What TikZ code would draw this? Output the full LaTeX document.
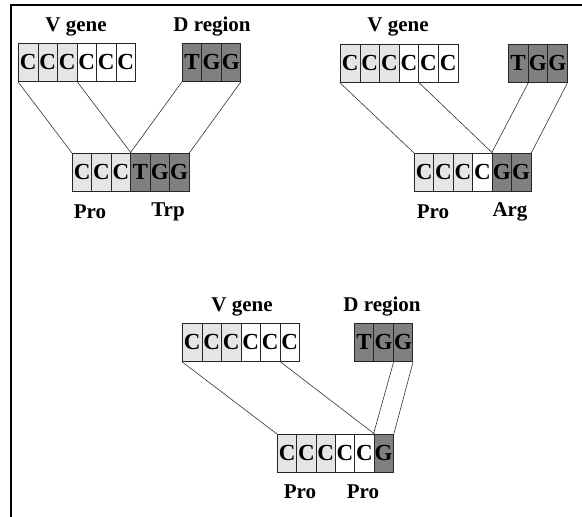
\documentclass[tikz,border=0pt]{standalone}
\usepackage{fontspec}
\setmainfont{Liberation Serif}
\begin{document}
\begin{tikzpicture}[x=1pt,y=-1pt,
  cell/.style={draw=black!85, line width=0.8pt, anchor=north west, inner sep=0pt,
    minimum width=19.5pt, minimum height=38pt, font=\fontsize{23}{23}\selectfont\bfseries},
  lt/.style={fill=black!10},
  dk/.style={fill=black!50},
  wt/.style={fill=white},
  lbl/.style={font=\fontsize{21}{21}\selectfont\bfseries, inner sep=0pt},
  link/.style={draw=black!80, line width=0.6pt}]
\useasboundingbox (0,0) rectangle (582,517);
% frame
\draw[line width=1.6pt] (11,517) -- (11,5) -- (582,5);

% ---------- first rearrangement: Pro Trp ----------
\foreach \f [count=\i] in {lt,lt,lt,wt,wt,wt}
  \node[cell,\f] (av\i) at ({18+(\i-1)*19.5},43) {C};
\foreach \t/\f [count=\i] in {T/dk,G/dk,G/dk}
  \node[cell,\f] (ad\i) at ({182+(\i-1)*19.3},43) {\t};
\foreach \t/\f [count=\i] in {C/lt,C/lt,C/lt,T/dk,G/dk,G/dk}
  \node[cell,\f] (ap\i) at ({72+(\i-1)*19.4},153) {\t};
\node[lbl] (avl) at (76,27) {V gene};
\node[lbl] (adl) at (212,27) {D region};
\node[lbl] (apa) at (90,212) {Pro};
\node[lbl] (apb) at (168,212) {Trp};
\draw[link] (av1.south west) -- (ap1.north west);
\draw[link] (av3.south east) -- (ap3.north east);
\draw[link] (ad1.south west) -- (ap4.north west);
\draw[link] (ad3.south east) -- (ap6.north east);

% ---------- second rearrangement: Pro Arg ----------
\foreach \f [count=\i] in {lt,lt,lt,wt,wt,wt}
  \node[cell,\f] (bv\i) at ({340+(\i-1)*19.6},44) {C};
\foreach \t/\f [count=\i] in {T/dk,G/dk,G/dk}
  \node[cell,\f] (bd\i) at ({508+(\i-1)*19.6},44) {\t};
\foreach \t/\f [count=\i] in {C/lt,C/lt,C/lt,C/wt,G/dk,G/dk}
  \node[cell,\f] (bp\i) at ({414+(\i-1)*19.4},153) {\t};
\node[lbl] (bvl) at (398,27) {V gene};
\node[lbl] (bpa) at (433,212) {Pro};
\node[lbl] (bpb) at (510,212) {Arg};
\draw[link] (bv1.south west) -- (bp1.north west);
\draw[link] (bv4.south east) -- (bp4.north east);
\draw[link] (bd1.south east) -- (bp5.north west);
\draw[link] (bd3.south east) -- (bp6.north east);

% ---------- third rearrangement: Pro Pro ----------
\foreach \f [count=\i] in {lt,lt,lt,wt,wt,wt}
  \node[cell,\f] (cv\i) at ({182+(\i-1)*19.5},323) {C};
\foreach \t/\f [count=\i] in {T/dk,G/dk,G/dk}
  \node[cell,\f] (cd\i) at ({354+(\i-1)*19.4},323) {\t};
\foreach \t/\f [count=\i] in {C/lt,C/lt,C/lt,C/wt,C/wt,G/dk}
  \node[cell,\f] (cp\i) at ({277+(\i-1)*19.3},434) {\t};
\node[lbl] (cvl) at (242,307) {V gene};
\node[lbl] (cdl) at (382,307) {D region};
\node[lbl] (cpa) at (300,492) {Pro};
\node[lbl] (cpb) at (363,492) {Pro};
\draw[link] (cv1.south west) -- (cp1.north west);
\draw[link] (cv5.south east) -- (cp5.north east);
\draw[link] (cd2.south east) -- (cp6.north west);
\draw[link] (cd3.south east) -- (cp6.north east);
\end{tikzpicture}
\end{document}
